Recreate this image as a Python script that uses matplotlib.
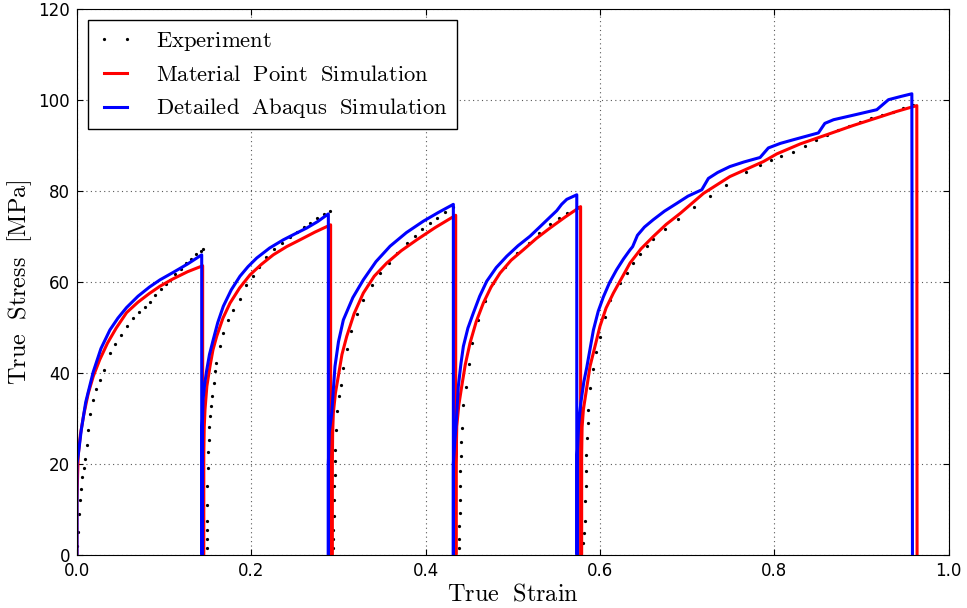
import matplotlib
matplotlib.use("Agg")
import matplotlib.pyplot as plt

plt.rcParams['mathtext.fontset'] = 'cm'

# experiment (measured points, 5 loading cycles)
exp_x = [0.0005, 0.001, 0.0018, 0.003, 0.0045, 0.006, 0.0075, 0.0092, 0.011, 0.013, 0.015, 0.018,
         0.022, 0.0265, 0.031, 0.038, 0.044, 0.05, 0.057, 0.064, 0.071, 0.078, 0.084, 0.09, 0.096,
         0.102, 0.107, 0.113, 0.119, 0.125, 0.131, 0.137, 0.142, 0.145,
         0.1487, 0.1487, 0.1488, 0.1489, 0.1491, 0.1494, 0.1498, 0.1503, 0.151, 0.1519, 0.1529,
         0.154, 0.1552, 0.1567, 0.1583, 0.1598, 0.1636, 0.1678, 0.1735, 0.1795, 0.1865, 0.194,
         0.2015, 0.209, 0.2168, 0.226, 0.235, 0.244, 0.2525, 0.26, 0.2675, 0.2755, 0.2835, 0.2903,
         0.294, 0.294, 0.2941, 0.2944, 0.2949, 0.2953, 0.2957, 0.296, 0.2962, 0.2972, 0.2987,
         0.301, 0.3026, 0.3055, 0.3095, 0.3145, 0.321, 0.3285, 0.338, 0.3477, 0.3575, 0.3675,
         0.3783, 0.3875, 0.396, 0.405, 0.4135, 0.4225, 0.4318,
         0.4387, 0.4387, 0.4388, 0.4389, 0.439, 0.4395, 0.4399, 0.4403, 0.441, 0.4416, 0.4433,
         0.4462, 0.4495, 0.4529, 0.4605, 0.4682, 0.4777, 0.4905, 0.5045, 0.5185, 0.5305, 0.5427,
         0.5525, 0.5619, 0.5752,
         0.581, 0.5818, 0.5829, 0.5829, 0.5835, 0.584, 0.5845, 0.5849, 0.5858, 0.5867, 0.589,
         0.5924, 0.596, 0.6, 0.6055, 0.6116, 0.623, 0.6307, 0.6383, 0.646, 0.6537, 0.6613, 0.675,
         0.69, 0.708, 0.726, 0.745, 0.768,
         0.7837, 0.796, 0.808, 0.8219, 0.835, 0.848, 0.8602, 0.873, 0.886, 0.8985, 0.911, 0.924,
         0.9366, 0.948, 0.9596]
exp_y = [2, 5, 9, 12, 14.5, 17, 19, 21, 24, 27.5, 31, 34,
         36.5, 38.5, 40.5, 44.4, 46.3, 48.2, 50.2, 52, 53.4, 54.5, 55.5, 57, 58.3,
         59.5, 60.4, 61.6, 62.8, 64, 65, 66, 66.8, 67.2,
         1.5, 3.5, 5.5, 7.5, 11, 15, 19, 22.5, 25.3, 28, 30.4,
         32.7, 34.8, 37.8, 40.3, 42.2, 45.8, 48.7, 51.5, 53.8, 56.3, 59.2,
         61.3, 63.3, 65.4, 67.1, 68.6, 69.9, 71, 72, 72.9, 73.9, 74.8, 75.5,
         1.5, 3.5, 5.5, 8.5, 12, 15, 17.6, 20.5, 23, 27.5, 31.5,
         34.8, 37.4, 41, 45.3, 49.2, 53, 56, 59.2, 61.9, 64.2, 66.4,
         68.5, 70, 71.5, 72.9, 74.1, 75.3, 76.5,
         1.5, 3.5, 6.2, 9.2, 12, 15, 18.5, 21.6, 24.8, 27.8, 32.8,
         36.8, 41.8, 46.5, 51.5, 55.8, 59.7, 63.2, 66.2, 68.5, 70.7, 72.7,
         73.9, 75, 76.5,
         2.6, 4.8, 7.3, 11.7, 15, 18.3, 22, 25.6, 29, 31.9, 36.6,
         40.7, 44.5, 47.9, 52.2, 56, 59.8, 62, 64.2, 66.1, 67.8, 69.3, 71.6,
         73.8, 76.4, 78.8, 81.3, 84.2,
         85.7, 86.7, 87.7, 88.6, 89.9, 91.1, 92.3, 93.3, 94.3, 95.2, 96, 96.7,
         97.4, 98.2, 98.9]

# material point simulation
mp_x = [0, 0, 0.0008, 0.0015, 0.004, 0.008, 0.013, 0.0187, 0.026, 0.035, 0.045, 0.0569, 0.07,
        0.083, 0.0952, 0.11, 0.127, 0.1442, 0.1442,
        0.1455, 0.1455, 0.146, 0.1469, 0.149, 0.1526, 0.156, 0.1603, 0.1675, 0.1756, 0.1865,
        0.1985, 0.2115, 0.2252, 0.2405, 0.2559, 0.273, 0.291, 0.291,
        0.293, 0.293, 0.2933, 0.2941, 0.2965, 0.2998, 0.304, 0.3095, 0.318, 0.3285, 0.341,
        0.3554, 0.372, 0.3898, 0.411, 0.4345, 0.4345,
        0.4349, 0.4349, 0.4357, 0.438, 0.4414, 0.4455, 0.4509, 0.458, 0.4662, 0.475, 0.4854,
        0.498, 0.5121, 0.527, 0.5427, 0.56, 0.5778, 0.5778,
        0.579, 0.579, 0.5795, 0.581, 0.5886, 0.6, 0.607, 0.6154, 0.6345, 0.647, 0.661, 0.676,
        0.692, 0.7187, 0.749, 0.7875, 0.803, 0.83, 0.8602, 0.89, 0.9176, 0.94, 0.9635, 0.9638]
mp_y = [0, 12, 18, 22, 26.5, 31, 35.5, 39.2, 42.8, 46.5, 49.8, 53.2, 55.5,
        57.4, 59, 60.6, 62.2, 63.5, 0,
        0, 22, 28, 31.9, 37, 41.4, 45, 48, 52, 55.3, 58.6,
        61.5, 63.8, 65.9, 67.7, 69.2, 70.9, 72.5, 0,
        0, 20, 26.5, 31.1, 35.5, 39.2, 44, 48, 53, 57.5, 61.2,
        64.1, 66.8, 69.2, 71.9, 74.6, 0,
        0, 20, 28.2, 32.8, 37, 41.8, 46.5, 51.2, 55.3, 58.8, 61.9,
        64.7, 67, 69.5, 71.8, 74.2, 76.5, 0,
        0, 22, 28, 31.9, 41.4, 50.2, 54.2, 57.5, 64.1, 67.2, 69.9, 72.6,
        75, 79.4, 83.1, 86.4, 88.1, 90.3, 92.3, 94.3, 96, 97.4, 98.7, 0]

# detailed abaqus simulation
ab_x = [0, 0, 0.0015, 0.005, 0.01, 0.0187, 0.0275, 0.0378, 0.047, 0.0568, 0.07, 0.083, 0.0952,
        0.11, 0.127, 0.1431, 0.1431,
        0.1438, 0.1438, 0.1446, 0.1465, 0.1488, 0.152, 0.1564, 0.1615, 0.1679, 0.177, 0.187,
        0.1962, 0.2062, 0.221, 0.2367, 0.25, 0.2636, 0.276, 0.2884, 0.2884,
        0.2884, 0.2884, 0.2895, 0.2923, 0.2942, 0.296, 0.3, 0.3056, 0.3165, 0.3285, 0.343,
        0.3592, 0.378, 0.3974, 0.4145, 0.4318, 0.4318,
        0.4318, 0.4318, 0.4335, 0.4349, 0.4375, 0.4405, 0.4433, 0.4485, 0.4547, 0.462, 0.4701,
        0.481, 0.4931, 0.506, 0.5198, 0.5313, 0.5427, 0.5504, 0.556, 0.5619, 0.5734, 0.5734,
        0.574, 0.574, 0.5755, 0.578, 0.5815, 0.585, 0.5925, 0.598, 0.604, 0.611, 0.619, 0.627,
        0.6345, 0.6375, 0.643, 0.651, 0.661, 0.674, 0.688, 0.701, 0.7168, 0.7244, 0.735, 0.749,
        0.765, 0.7837, 0.7932, 0.807, 0.8219, 0.8506, 0.858, 0.868, 0.893, 0.9176, 0.931, 0.945,
        0.9578, 0.9585]
ab_y = [0, 20, 22, 27.5, 33.5, 40.2, 45.3, 49.4, 52, 54.3, 56.8, 58.8, 60.4,
        62, 63.9, 65.9, 0,
        0, 28, 34, 37.5, 40.5, 44, 47.3, 51, 54.6, 58.2, 61.2,
        63.3, 65.2, 67.4, 69.2, 70.5, 71.8, 73.2, 74.9, 0,
        0, 20, 27, 31.1, 36.5, 41.4, 46.8, 51.6, 56.5, 60.4, 64.4,
        67.8, 70.8, 73.3, 75.2, 77, 0,
        0, 20, 25, 28.2, 37, 42, 45.8, 49.8, 53.1, 56.8, 60.1,
        63.1, 65.6, 67.9, 70, 72.1, 74.2, 75.6, 77, 78.1, 79.1, 0,
        0, 22, 28.5, 33.3, 38, 41.3, 49.4, 53.5, 56.7, 59.8, 62.6, 65,
        67, 67.7, 70.2, 72, 73.6, 75.5, 77.2, 78.8, 80.2, 82.7, 84, 85.3,
        86.3, 87.3, 89.4, 90.4, 91.2, 92.7, 94.8, 95.6, 96.7, 97.8, 100, 100.7,
        101.3, 0]

fig = plt.figure(figsize=(9.67, 6.08), dpi=100)
ax = fig.add_axes([0.0796, 0.0877, 0.9014, 0.898])

ax.plot(exp_x, exp_y, linestyle='none', marker='o', markersize=1.3, color='k',
        label=r'$\mathrm{Experiment}$')
ax.plot(mp_x, mp_y, color='#ff0000', linewidth=2.2,
        label=r'$\mathrm{Material\ \ Point\ \ Simulation}$')
ax.plot(ab_x, ab_y, color='#0000ff', linewidth=2.2,
        label=r'$\mathrm{Detailed\ \ Abaqus\ \ Simulation}$')

ax.set_xlim(0, 1.0)
ax.set_ylim(0, 120)
ax.set_xticks([0.0, 0.2, 0.4, 0.6, 0.8, 1.0])
ax.set_yticks([0, 20, 40, 60, 80, 100, 120])
ax.tick_params(direction='in', top=True, right=True, labelsize=12, length=4, pad=5)
ax.grid(True, color='0.35', linestyle=(0, (1, 3)), linewidth=0.8)

ax.set_xlabel(r'$\mathrm{True\ \ Strain}$', fontsize=17.5, labelpad=1)
ax.set_ylabel(r'$\mathrm{True\ \ Stress\ \ [MPa]}$', fontsize=17.5, labelpad=3)

leg = ax.legend(loc='upper left', numpoints=2, fontsize=16.3, fancybox=False,
                edgecolor='k', framealpha=1, borderaxespad=0.5, handlelength=1.6,
                handletextpad=1.0, labelspacing=0.45)
leg.get_frame().set_linewidth(1.0)

fig.savefig('out.png', dpi=100)
